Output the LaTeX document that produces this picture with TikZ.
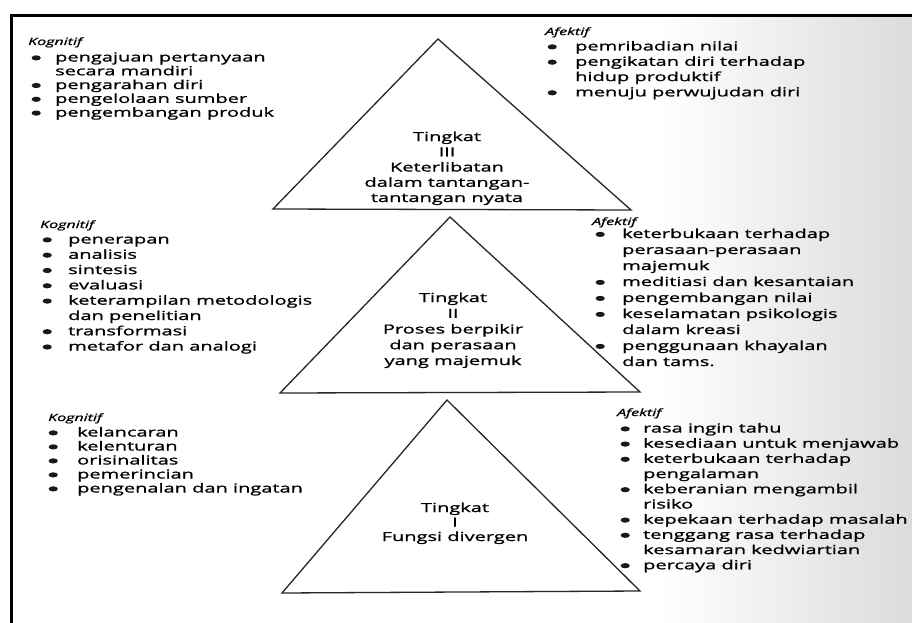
\documentclass[tikz,border=0pt]{standalone}
\usepackage{fontspec}
\setmainfont{Open Sans}[FakeStretch=1.6, FakeBold=1.2]
\newcommand\bl{\makebox[10pt]{\raisebox{1pt}{\tikz[x=1pt,y=1pt]\fill[black!90] (0,0) ellipse (4.6 and 2.6);}}}
\newcommand\blist[2]{\begin{tabular}[t]{@{}l@{\hspace{#1}}l@{}}#2\end{tabular}}
\newcommand\clist[1]{\begin{tabular}[t]{@{}c@{}}#1\end{tabular}}
\tikzset{
  frameline/.style={line width=3.3pt, black, line cap=rect},
  tri/.style={line width=1.3pt, draw=black!85, line join=miter},
  lst/.style={inner sep=0pt, anchor=base west, font=\fontsize{12.5pt}{#1}\selectfont},
  lbl/.style={inner sep=0pt, anchor=base, font=\fontsize{12.5pt}{#1}\selectfont},
  ttl/.style={inner sep=0pt, anchor=base west, font=\fontsize{10pt}{12pt}\selectfont\itshape},
}
\begin{document}
\begin{tikzpicture}[x=1pt,y=-1pt]
\useasboundingbox (0,0) rectangle (912,623);
\fill[white] (0,0) rectangle (912,623);
\shade[left color=white, right color=black!14] (660,18) rectangle (912,623);
% frame
\coordinate (fa) at (912,15.7);
\coordinate (fb) at (11.7,15.7);
\coordinate (fc) at (11.7,623);
\draw[frameline] (fa) -- (fb) -- (fc);
% triangles
\coordinate (t3l) at (273,209);
\coordinate (t3a) at (438,39);
\coordinate (t3r) at (631,210);
\coordinate (t2l) at (280,393);
\coordinate (t2a) at (450,217);
\coordinate (t2r) at (640,392);
\coordinate (t1l) at (282,593);
\coordinate (t1a) at (447,400);
\coordinate (t1r) at (640,591);
\draw[tri] (t3l) -- (t3a) -- (t3r) -- cycle;
\draw[tri] (t2l) -- (t2a) -- (t2r) -- cycle;
\draw[tri] (t1l) -- (t1a) -- (t1r) -- cycle;
% triangle labels
\node[lbl=15.25pt] (l3) at (447,141) {\clist{Tingkat\\III\\Keterlibatan\\dalam tantangan-\\tantangan nyata}};
\node[lbl=15.75pt] (l2) at (453,302) {\clist{Tingkat\\II\\Proses berpikir\\dan perasaan\\yang majemuk}};
\node[lbl=14.5pt] (l1) at (455,512) {\clist{Tingkat\\I\\Fungsi divergen}};
% titles
\node[ttl] (k3) at (28,45) {Kognitif};
\node[ttl] (a3) at (545,35) {Afektif};
\node[ttl] (k2) at (40,228) {Kognitif};
\node[ttl] (a2) at (592,225) {Afektif};
\node[ttl] (k1) at (48,421) {Kognitif};
\node[ttl] (a1) at (617,416) {Afektif};
% lists
\node[lst=13.8pt] (k3l) at (31,61.5) {\blist{14pt}{\bl & pengajuan pertanyaan\\ & secara mandiri\\ \bl & pengarahan diri\\ \bl & pengelolaan sumber\\ \bl & pengembangan produk}};
\node[lst=15.3pt] (a3l) at (547,50.5) {\blist{18pt}{\bl & pemribadian nilai\\ \bl & pengikatan diri terhadap\\ & hidup produktif\\ \bl & menuju perwujudan diri}};
\node[lst=15.3pt] (k2l) at (42,243.5) {\blist{16pt}{\bl & penerapan\\ \bl & analisis\\ \bl & sintesis\\ \bl & evaluasi\\ \bl & keterampilan metodologis\\ & dan penelitian\\ \bl & transformasi\\ \bl & metafor dan analogi}};
\node[lst=16pt] (a2l) at (595,238) {\blist{17pt}{\bl & keterbukaan terhadap\\ & perasaan-perasaan\\ & majemuk\\ \bl & meditiasi dan kesantaian\\ \bl & pengembangan nilai\\ \bl & keselamatan psikologis\\ & dalam kreasi\\ \bl & penggunaan khayalan\\ & dan tams.}};
\node[lst=14pt] (k1l) at (48,436.5) {\blist{19pt}{\bl & kelancaran\\ \bl & kelenturan\\ \bl & orisinalitas\\ \bl & pemerincian\\ \bl & pengenalan dan ingatan}};
\node[lst=15.2pt] (a1l) at (620,432.5) {\blist{13pt}{\bl & rasa ingin tahu\\ \bl & kesediaan untuk menjawab\\ \bl & keterbukaan terhadap\\ & pengalaman\\ \bl & keberanian mengambil\\ & risiko\\ \bl & kepekaan terhadap masalah\\ \bl & tenggang rasa terhadap\\ & kesamaran kedwiartian\\ \bl & percaya diri}};
\end{tikzpicture}
\end{document}
